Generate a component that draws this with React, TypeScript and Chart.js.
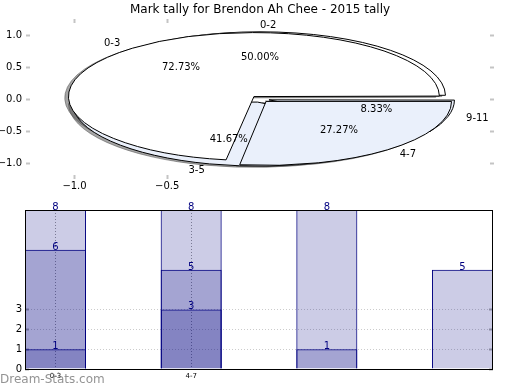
import React, { useEffect, useRef } from 'react';
import { Chart, registerables } from 'chart.js';

Chart.register(...registerables);
Chart.defaults.font.family = '"DejaVu Sans", sans-serif';

// ---------- data ----------
const TITLE = 'Mark tally for Brendon Ah Chee - 2015 tally';
const pieALabels = ['0-3', '4-7'];
const pieAValues = [8, 3];
const pieBLabels = ['0-2', '3-5', '9-11'];
const pieBValues = [6, 5, 1];
const pieAColors = ['#ffffff', '#eaf0fb'];
const pieBColors = ['#ffffff', '#eaf0fb', '#eaf0fb'];
const EXPLODE = 0.05;
const pieXTicks = [-1.0, -0.5];
const pieYTicks = [-1.0, -0.5, 0.0, 0.5, 1.0];

const barPositions = [0, 1, 2, 3];
const barLayer1 = [8, 8, 8, 5];
const barLayer2 = [6, 5, 1, null];
const barLayer3 = [1, 3, null, null];
const barXTickLabels = ['0-3', '4-7'];
const barYTicks = [0, 1, 2, 3];
const WATERMARK = 'Dream-Stats.com';

// ---------- helpers ----------
const fmt1 = (v: number) => (v < 0 ? '\u2212' : '') + Math.abs(v).toFixed(1);

function geom(chart: any) {
  const xs = chart.scales.x;
  const ys = chart.scales.y;
  const cx = xs.getPixelForValue(0);
  const cy = ys.getPixelForValue(0);
  const rx = xs.getPixelForValue(1) - cx;
  const ry = cy - ys.getPixelForValue(1);
  return { cx, cy, rx, ry, k: ry / rx };
}

const ellipsePlugin = {
  id: 'ellipsePie',
  beforeDatasetsDraw(chart: any) {
    const ctx = chart.ctx;
    const g = geom(chart);
    const off = EXPLODE * g.rx;
    const metas = chart.getSortedVisibleDatasetMetas();
    metas.forEach((meta: any) =>
      meta.data.forEach((arc: any) => {
        const fix = 1 - Math.sin(Math.min(Math.PI, arc.circumference));
        arc.x = g.cx;
        arc.y = g.cy;
        arc.innerRadius = 0;
        arc.outerRadius = g.rx - off * fix;
      })
    );
    const base = ctx.getTransform();
    const origStroke = CanvasRenderingContext2D.prototype.stroke;
    ctx.stroke = function (...args: any[]) {
      this.save();
      this.setTransform(base);
      origStroke.apply(this, args as any);
      this.restore();
    };
    const SHIFT = 5000;
    // shadow pass
    ctx.save();
    ctx.translate(SHIFT, 0);
    ctx.translate(g.cx, g.cy);
    ctx.scale(1, -g.k);
    ctx.translate(-g.cx, -g.cy);
    ctx.shadowColor = 'rgba(77,77,77,0.5)';
    ctx.shadowOffsetX = -SHIFT - 0.02 * g.rx;
    ctx.shadowOffsetY = 0.02 * g.ry;
    ctx.shadowBlur = 0;
    for (let i = metas.length - 1; i >= 0; i--) metas[i].data.forEach((a: any) => a.draw(ctx));
    ctx.restore();
    // main pass transform
    ctx.save();
    ctx.translate(g.cx, g.cy);
    ctx.scale(1, -g.k);
    ctx.translate(-g.cx, -g.cy);
  },
  afterDatasetsDraw(chart: any) {
    const ctx = chart.ctx;
    ctx.restore();
    delete ctx.stroke;
    const g = geom(chart);
    const sets = [
      { labels: pieALabels, values: pieAValues },
      { labels: pieBLabels, values: pieBValues },
    ];
    ctx.save();
    ctx.fillStyle = '#000';
    ctx.font = '10px "DejaVu Sans"';
    ctx.textBaseline = 'middle';
    sets.forEach((set, d) => {
      const meta = chart.getDatasetMeta(d);
      const total = set.values.reduce((a, b) => a + b, 0);
      meta.data.forEach((arc: any, i: number) => {
        const mid = (arc.startAngle + arc.endAngle) / 2;
        const c = Math.cos(mid);
        const s = Math.sin(mid);
        const dl = (1.1 + EXPLODE) * g.rx;
        ctx.textAlign = c > 0 ? 'left' : 'right';
        ctx.fillText(set.labels[i], g.cx + c * dl, g.cy - g.k * s * dl);
        const dp = (0.6 + EXPLODE) * g.rx;
        ctx.textAlign = 'center';
        ctx.fillText(((set.values[i] / total) * 100).toFixed(2) + '%', g.cx + c * dp, g.cy - g.k * s * dp);
      });
    });
    ctx.restore();
  },
  afterDraw(chart: any) {
    const ctx = chart.ctx;
    const a = chart.chartArea;
    ctx.save();
    ctx.fillStyle = '#000';
    ctx.font = '12px "DejaVu Sans"';
    ctx.textAlign = 'center';
    ctx.textBaseline = 'middle';
    ctx.fillText(TITLE, (a.left + a.right) / 2, 10);
    ctx.restore();
  },
};

const tickGrid = { drawOnChartArea: false, drawTicks: true, tickLength: 4, tickColor: '#c4c4c4', tickWidth: 2 };

const barLabelPlugin = {
  id: 'barLabels',
  afterDatasetsDraw(chart: any) {
    const ctx = chart.ctx;
    const a = chart.chartArea;
    ctx.save();
    ctx.strokeStyle = '#000';
    ctx.lineWidth = 1;
    ctx.strokeRect(Math.round(a.left) + 0.5, Math.round(a.top) + 0.5, Math.round(a.right - a.left) - 1, Math.round(a.bottom - a.top));
    ctx.fillStyle = '#000080';
    ctx.font = '10px "DejaVu Sans"';
    ctx.textAlign = 'center';
    ctx.textBaseline = 'alphabetic';
    chart.data.datasets.forEach((ds: any, d: number) => {
      const meta = chart.getDatasetMeta(d);
      meta.data.forEach((el: any, i: number) => {
        ctx.fillText(String(ds.data[i].y), el.x, el.y);
      });
    });
    ctx.restore();
  },
  afterDraw(chart: any) {
    const ctx = chart.ctx;
    ctx.save();
    ctx.fillStyle = 'rgba(120,120,120,0.8)';
    ctx.font = '12px "DejaVu Sans"';
    ctx.textAlign = 'left';
    ctx.textBaseline = 'middle';
    ctx.fillText(WATERMARK, 0, chart.height - 10);
    ctx.restore();
  },
};

const layer = (vals: (number | null)[]) =>
  barPositions.map((x, i) => ({ x, y: vals[i] })).filter((p) => p.y !== null);

export default function App() {
  const topRef = useRef<HTMLCanvasElement>(null);
  const botRef = useRef<HTMLCanvasElement>(null);

  useEffect(() => {
    document.body.style.margin = '0';
    const top = new Chart(topRef.current as HTMLCanvasElement, {
      type: 'pie',
      data: {
        labels: pieALabels,
        datasets: [
          {
            data: pieAValues,
            backgroundColor: pieAColors,
            borderColor: '#000',
            borderWidth: 1,
            offset: (c: any) => 4 * EXPLODE * geom(c.chart).rx,
          } as any,
          {
            data: pieBValues,
            backgroundColor: pieBColors,
            borderColor: '#000',
            borderWidth: 1,
            offset: (c: any) => 4 * EXPLODE * geom(c.chart).rx,
          } as any,
        ],
      },
      options: {
        animation: false,
        responsive: false,
        events: [],
        rotation: 90,
        layout: { padding: 0 },
        plugins: { legend: { display: false }, tooltip: { enabled: false }, title: { display: false } },
        scales: {
          x: {
            type: 'linear',
            position: 'bottom',
            min: -1.24,
            max: 1.24,
            border: { display: false },
            grid: tickGrid,
            afterBuildTicks: (s: any) => { s.ticks = pieXTicks.map((v) => ({ value: v })); },
            afterFit: (s: any) => { s.height = 20; },
            ticks: { callback: (v: any) => fmt1(Number(v)), color: '#000', font: { size: 10 }, padding: 1, autoSkip: false, maxRotation: 0 },
          },
          x2: {
            type: 'linear',
            position: 'top',
            min: -1.24,
            max: 1.24,
            border: { display: false },
            grid: tickGrid,
            afterBuildTicks: (s: any) => { s.ticks = pieXTicks.map((v) => ({ value: v })); },
            afterFit: (s: any) => { s.height = 23; },
            ticks: { display: false },
          },
          y: {
            type: 'linear',
            position: 'left',
            min: -1.1875,
            max: 1.1875,
            border: { display: false },
            grid: tickGrid,
            afterBuildTicks: (s: any) => { s.ticks = pieYTicks.map((v) => ({ value: v })); },
            afterFit: (s: any) => { s.width = 30; },
            ticks: { callback: (v: any) => fmt1(Number(v)), color: '#000', font: { size: 10 }, padding: 4 },
          },
          y2: {
            type: 'linear',
            position: 'right',
            min: -1.1875,
            max: 1.1875,
            border: { display: false },
            grid: tickGrid,
            afterBuildTicks: (s: any) => { s.ticks = pieYTicks.map((v) => ({ value: v })); },
            afterFit: (s: any) => { s.width = 30; },
            ticks: { display: false },
          },
        } as any,
      } as any,
      plugins: [ellipsePlugin],
    });

    const barStyle = {
      backgroundColor: 'rgba(0,0,128,0.2)',
      borderColor: '#000080',
      borderWidth: 1,
      grouped: false,
      barPercentage: 0.45,
      categoryPercentage: 1,
    };
    const inTicks = { drawTicks: true, tickLength: -4, tickColor: '#aaaaaa', tickWidth: 2 };
    const bot = new Chart(botRef.current as HTMLCanvasElement, {
      type: 'bar',
      data: {
        datasets: [
          { data: layer(barLayer1), ...barStyle } as any,
          { data: layer(barLayer2), ...barStyle } as any,
          { data: layer(barLayer3), ...barStyle } as any,
        ],
      },
      options: {
        animation: false,
        responsive: false,
        events: [],
        layout: { padding: { top: 15, right: 27, left: 0, bottom: 0 } },
        plugins: { legend: { display: false }, tooltip: { enabled: false } },
        scales: {
          x: {
            type: 'linear',
            min: -0.225,
            max: 3.225,
            offset: false,
            border: { display: false, dash: [1, 2] },
            grid: { color: '#999999', drawTicks: false, offset: false },
            afterBuildTicks: (s: any) => { s.ticks = barXTickLabels.map((_, i) => ({ value: i })); },
            afterFit: (s: any) => { s.height = 21; },
            ticks: { callback: (v: any) => barXTickLabels[Number(v)] ?? '', color: '#000', font: { size: 7 }, padding: 3, autoSkip: false, maxRotation: 0 },
          },
          y: {
            type: 'linear',
            min: 0,
            max: 8,
            border: { display: false, dash: [1, 2] },
            grid: { color: '#cccccc', ...inTicks },
            afterBuildTicks: (s: any) => { s.ticks = barYTicks.map((v) => ({ value: v })); },
            afterFit: (s: any) => { s.width = 25; },
            ticks: { color: '#000', font: { size: 10 }, padding: 7 },
          },
          y2: {
            type: 'linear',
            position: 'right',
            min: 0,
            max: 8,
            border: { display: false },
            grid: { drawOnChartArea: false, ...inTicks },
            afterBuildTicks: (s: any) => { s.ticks = barYTicks.map((v) => ({ value: v })); },
            afterFit: (s: any) => { s.width = 0; },
            ticks: { display: false },
          },
        } as any,
      } as any,
      plugins: [barLabelPlugin],
    });

    return () => {
      top.destroy();
      bot.destroy();
    };
  }, []);

  return (
    <div style={{ position: 'absolute', left: 0, top: 0, width: 520, height: 390, background: '#fff' }}>
      <canvas ref={topRef} width={520} height={195} style={{ position: 'absolute', left: 0, top: 0 }} />
      <canvas ref={botRef} width={520} height={195} style={{ position: 'absolute', left: 0, top: 195 }} />
    </div>
  );
}
